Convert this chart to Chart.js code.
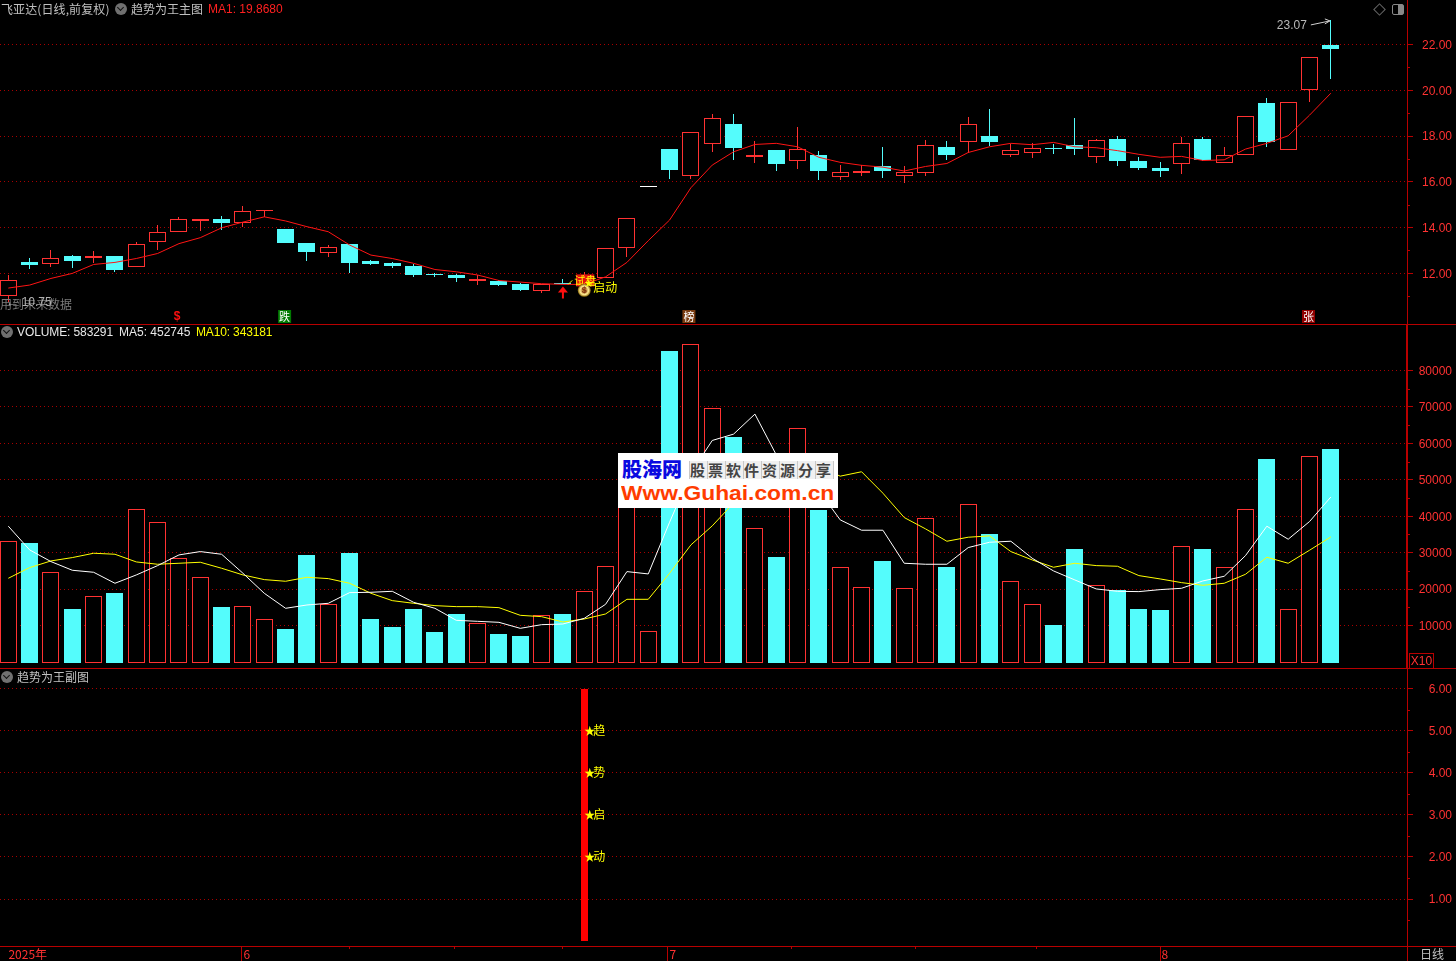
<!DOCTYPE html>
<html>
<head>
<meta charset="utf-8">
<title>飞亚达 日线</title>
<script src="https://cdn.jsdelivr.net/npm/chart.js@4"></script>
<style>
html, body { margin:0; padding:0; background:#000; overflow:hidden; }
#page { position:relative; width:1456px; height:961px; background:#000; }
canvas { position:absolute; left:0; }
.txt { position:absolute; white-space:nowrap; font:12px/14px "Liberation Sans", "Noto Sans CJK SC", sans-serif; color:#c0c0c0; }
.cn { font-family:"Noto Sans CJK SC", sans-serif; }
.rule { position:absolute; background:#b80000; }
.dot { position:absolute; width:12px; height:12px; border-radius:6px; background:#707070; }
.dot::after { content:""; position:absolute; left:3px; top:2px; width:4px; height:4px; border-right:1px solid #111; border-bottom:1px solid #111; transform:rotate(45deg); }
#logo { position:absolute; left:618px; top:453px; width:220px; height:55px; background:#fff; overflow:hidden; }
#logo div { position:absolute; white-space:nowrap; }
</style>
</head>
<body>
<div id="page">
  <canvas id="priceChart" width="1456" height="324" style="top:0"></canvas>
  <canvas id="volumeChart" width="1456" height="343" style="top:325px"></canvas>
  <canvas id="signalChart" width="1456" height="293" style="top:668px"></canvas>

  <div class="rule" style="left:0;top:324px;width:1456px;height:1px"></div>
  <div class="rule" style="left:0;top:668px;width:1456px;height:1px"></div>
  <div class="rule" style="left:0;top:946px;width:1456px;height:1px"></div>
  <div class="rule" style="left:1407px;top:946px;width:1px;height:15px"></div>

  <div class="txt cn" style="left:1px;top:2px;letter-spacing:.1px">飞亚达(日线,前复权)</div>
  <div class="dot" style="left:115px;top:3px"></div>
  <div class="txt cn" style="left:131px;top:2px">趋势为王主图</div>
  <div class="txt" style="left:208px;top:2px;color:#ff2020">MA1: 19.8680</div>
  <div style="position:absolute;left:1375px;top:5px;width:7px;height:7px;border:1px solid #666;transform:rotate(45deg)"></div>
  <div style="position:absolute;left:1392px;top:4px;width:10px;height:9px;border:1px solid #888;border-radius:2px;background:linear-gradient(90deg,#000 50%,#888 50%)"></div>

  <div class="dot" style="left:1px;top:326px"></div>
  <div class="txt" style="left:17px;top:325px;color:#e8e8e8;letter-spacing:-.1px">VOLUME: 583291</div>
  <div class="txt" style="left:119px;top:325px;color:#e8e8e8">MA5: 452745</div>
  <div class="txt" style="left:196px;top:325px;color:#ffff00;letter-spacing:-.15px">MA10: 343181</div>
  <div class="txt" style="left:1409px;top:653px;width:23px;height:14px;border:1px solid #b80000;border-bottom:0;color:#ff3232;text-align:center">X10</div>

  <div class="dot" style="left:1px;top:671px"></div>
  <div class="txt cn" style="left:17px;top:670px">趋势为王副图</div>
  <div class="txt cn" style="left:1420px;top:947px">日线</div>

  <div id="logo">
    <div class="cn" style="left:4px;top:2px;font-size:20px;line-height:28px;font-weight:900;color:#0a0ae0">股海网</div>
    <div class="cn" style="left:71px;top:8px;width:144px;padding-left:1px;font-size:15px;line-height:18px;font-weight:700;color:#444;letter-spacing:3px;background:repeating-linear-gradient(90deg,#c8c8c8 0,#c8c8c8 1px,#f0f0f0 1px,#f0f0f0 18px)">股票软件资源分享</div>
    <div style="left:3px;top:29px;font:bold 20px/22px 'Liberation Sans';color:#ff3c00;transform:scaleX(1.14);transform-origin:0 0">Www.Guhai.com.cn</div>
  </div>
</div>

<script>
// candles
const opens = [11.02,12.49,12.42,12.76,12.66,12.76,12.29,13.35,13.79,14.31,14.37,14.18,14.71,13.94,13.32,12.90,13.28,12.54,12.45,12.32,11.99,11.93,11.66,11.67,11.53,11.24,11.58,11.50,11.81,13.09,15.80,17.42,16.26,17.66,18.52,17.08,17.39,16.92,17.17,16.22,16.40,16.69,16.26,16.40,17.52,17.72,18.00,17.18,17.27,17.47,17.59,17.09,17.85,16.89,16.59,16.76,17.85,16.80,17.15,19.42,17.37,19.99,21.97];
const closes = [11.69,12.36,12.66,12.55,12.74,12.16,13.27,13.79,14.36,14.39,14.21,14.71,14.79,13.34,12.93,13.14,12.47,12.42,12.33,11.94,11.94,11.80,11.75,11.49,11.27,11.52,11.52,11.87,13.09,14.40,15.80,16.53,18.16,18.77,17.47,17.15,16.77,17.42,16.47,16.45,16.47,16.47,16.41,17.59,17.17,18.51,17.75,17.37,17.46,17.44,17.44,17.84,16.92,16.61,16.48,17.68,16.95,17.15,18.86,17.75,19.47,21.43,21.81];
const highs = [11.93,12.67,13.02,12.80,12.98,12.76,13.37,14.11,14.46,14.39,14.50,14.94,14.79,13.94,13.32,13.24,13.28,12.58,12.51,12.41,12.03,11.97,11.93,11.70,11.59,11.52,11.74,12.06,13.09,14.40,15.80,17.42,18.16,18.96,18.96,17.78,17.39,18.39,17.34,16.73,16.72,17.52,16.70,17.82,17.78,18.83,19.18,17.66,17.68,17.65,18.78,17.88,18.00,17.07,16.86,17.95,17.94,17.52,18.86,19.66,19.47,21.43,23.07];
const lows = [10.75,12.20,12.29,12.23,12.44,12.07,12.29,13.02,13.79,13.86,13.89,14.04,14.45,13.34,12.55,12.71,12.01,12.38,12.23,11.84,11.84,11.62,11.49,11.45,11.23,11.14,11.52,11.40,11.81,12.73,15.80,16.13,16.13,17.31,16.95,16.82,16.47,16.56,16.08,16.08,16.25,16.16,15.96,16.25,16.95,17.24,17.57,17.08,17.05,17.23,17.17,16.83,16.70,16.51,16.22,16.35,16.89,16.80,17.15,17.53,17.37,19.50,20.50];
const ma1 = [11.36,11.49,11.78,12.00,12.39,12.48,12.65,12.87,13.30,13.56,13.99,14.24,14.47,14.29,14.04,13.82,13.24,12.80,12.65,12.44,12.17,12.07,11.93,11.69,11.62,11.55,11.52,11.52,11.85,12.48,13.43,14.33,15.74,16.73,17.31,17.63,17.68,17.53,17.07,16.85,16.72,16.64,16.47,16.67,16.80,17.28,17.53,17.68,17.62,17.72,17.53,17.49,17.36,17.20,17.07,17.11,16.93,16.96,17.43,17.68,18.01,18.91,19.87];

// volume panel
const volumes = [33315,32674,24613,14537,18018,18934,41925,38536,28460,23422,15087,15270,11697,9041,29376,16003,29926,11789,9591,14537,8217,13163,10781,7667,7117,12797,13163,19392,26262,52000,8400,85435,87267,69680,61803,36704,28827,64093,41742,25987,20491,27727,20216,39452,26079,43299,35147,22140,15819,10140,31025,21040,19758,14537,14262,31758,31025,25987,41925,55757,14445,56490,58329];
const ma5 = [37254,30750,27544,25163,24613,21590,23880,26445,29376,30292,29559,24338,18842,14720,15636,16094,19025,19117,19392,16369,14720,11423,11148,10873,9224,10232,10415,11972,15819,24796,24155,38353,51873,60795,62535,68031,56856,52221,47055,38994,36155,36155,27086,26811,26811,31391,32857,33132,28460,24979,22506,20033,19392,19300,19850,20216,22231,23514,29193,37254,33681,38536,45274];
const ma10 = [22964,25895,27727,28643,29834,29559,27453,26811,27086,27361,25712,23880,22598,22140,23239,22873,21590,18842,16827,16094,15453,15178,15178,14903,12797,12430,10965,11789,13163,17193,17193,24338,32124,37345,43620,46010,47577,52247,53595,50994,52203,46322,39635,36521,33132,34231,34597,30292,28002,25987,27086,26445,26262,23697,22781,21773,21040,21590,24063,28735,27086,30658,34318];

// signal panel
const signalIndex = [27];
const signalValues = [6];
const signalStarValues = [5,4,3,2];
const signalWords = ['趋','势','启','动'];

// axis ticks
const priceTicks = [22,20,18,16,14,12];
const priceMinorTicks = [21,19,17,15,13,11];
const volumeTicks = [80000,70000,60000,50000,40000,30000,20000,10000];
const volumeMinorTicks = [75000,65000,55000,45000,35000,25000,15000];
const signalTicks = [6,5,4,3,2,1];
const signalMinorTicks = [5.5,4.5,3.5,2.5,1.5,0.5];
const dateTicks = [-0.09,10.93,30.9,53.97];
const dateLabels = ['2025年','6','7','8'];
const dateMinorTicks = [15.96,20.9,25.94,36.7,42.5,48.2];

const RED = '#ff3232', CYAN = '#54fcfc', AXIS = '#b80000', GRID = '#a80000';
const LATIN = '"Liberation Sans"', CJK = '"Noto Sans CJK SC"';
const isDoji = i => opens[i] === closes[i];
const isUp = i => closes[i] >= opens[i];

const indexes = opens.map((v, i) => i);
const xOptions = { type:'linear', min:-0.39, max:65.57, offset:false, display:false };

// y axis shared by the three panels
function yAxis(min, max, tickValues, digits, borderWidth){
    return {
        position:'right', min, max,
        afterBuildTicks(s){ s.ticks = tickValues.map(v => ({ value:v })); },
        afterFit(s){ s.width = 45; s.paddingTop = 0; s.paddingBottom = 0; },
        ticks:{ color:RED, crossAlign:'far', padding:0, autoSkip:false, labelOffset:1,
            font:{ family:LATIN, size:12 },
            callback:v => digits ? v.toFixed(digits) : String(v) },
        grid:{ color:GRID, tickColor:AXIS, tickLength:6, lineWidth:1 },
        border:{ color:AXIS, width:borderWidth, dash:[1,3] }
    };
}

// short ticks between the labelled ones
function minorTickPlugin(values){
    return { id:'minorTicks', afterDraw(chart){
        const s = chart.scales.y, c = chart.ctx;
        c.save();
        c.strokeStyle = AXIS;
        values.forEach(v => {
            const y = Math.round(s.getPixelForValue(v)) + 0.5;
            c.beginPath(); c.moveTo(s.left, y); c.lineTo(s.left + 3, y); c.stroke();
        });
        c.restore();
    }};
}

// keep bars on whole pixels so the 1px outlines stay sharp
const snapBars = { id:'snapBars', beforeDatasetsDraw(chart){
    chart.data.datasets.forEach((ds, d) => {
        const meta = chart.getDatasetMeta(d);
        if (meta.type !== 'bar') return;
        meta.data.forEach(el => {
            el.x = Math.round(el.x - 8.5) + 8.5;
            el.y = Math.round(el.y);
            el.base = Math.round(el.base);
        });
    });
}};

function text(c, str, x, y, color, font, align){
    c.fillStyle = color;
    c.font = font;
    c.textAlign = align || 'left';
    c.textBaseline = 'middle';
    c.fillText(str, x, y);
}

function badge(c, cx, top, bg, word){
    c.fillStyle = bg;
    c.fillRect(cx - 6.5, top, 13, 13);
    text(c, word, cx, top + 6.5, '#fff', '11px ' + CJK, 'center');
}

// marks the trading software puts on the price panel
const priceMarks = { id:'priceMarks', afterDatasetsDraw(chart){
    const c = chart.ctx, X = chart.scales.x, Y = chart.scales.y;
    c.save();

    // lowest price, near left edge
    const lowY = Y.getPixelForValue(lows[0]);
    text(c, '用到未来数据', 0, lowY + 2, '#7a7a7a', '12px ' + CJK);
    text(c, '← 10.75', X.getPixelForValue(0) - 2, lowY + 1, '#b0b0b0', '12px ' + LATIN);

    // highest price with thin arrow
    const hx = X.getPixelForValue(62), hy = Y.getPixelForValue(highs[62]);
    text(c, '23.07', hx - 54, hy + 6, '#b8b8b8', '12px ' + LATIN);
    c.strokeStyle = '#d0d0d0';
    c.lineWidth = 1;
    c.beginPath();
    c.moveTo(hx - 20, hy + 5); c.lineTo(hx - 1, hy + 1);
    c.moveTo(hx - 6, hy - 1); c.lineTo(hx - 1, hy + 1); c.lineTo(hx - 6, hy + 4);
    c.stroke();

    // red up arrow under candle 26
    const ax = X.getPixelForValue(26), ay = Y.getPixelForValue(lows[26]);
    c.fillStyle = '#ff1010';
    c.beginPath();
    c.moveTo(ax, ay + 2); c.lineTo(ax + 5, ay + 8); c.lineTo(ax + 1, ay + 8);
    c.lineTo(ax + 1, ay + 14); c.lineTo(ax - 1, ay + 14); c.lineTo(ax - 1, ay + 8);
    c.lineTo(ax - 5, ay + 8);
    c.closePath();
    c.fill();

    // 试盘 / 启动 marks by candle 27
    const sx = X.getPixelForValue(27), sy = Y.getPixelForValue(closes[27]);
    c.fillStyle = '#e81010';
    c.fillRect(sx - 8, sy - 2, 18, 12);
    text(c, '试盘', sx - 10, sy + 4, '#ffff00', '11px ' + CJK);
    c.strokeStyle = '#ffff00';
    c.beginPath(); c.moveTo(sx - 16, sy + 8); c.lineTo(sx - 12, sy + 4); c.stroke();
    const coin = c.createRadialGradient(sx, sy + 14, 1, sx, sy + 14, 6.5);
    coin.addColorStop(0, '#a86a20');
    coin.addColorStop(0.6, '#ffe890');
    coin.addColorStop(1, '#806000');
    c.fillStyle = coin;
    c.beginPath(); c.arc(sx, sy + 14, 6.5, 0, Math.PI * 2); c.fill();
    text(c, '$', sx, sy + 14, '#803010', 'bold 9px ' + LATIN, 'center');
    text(c, '★', sx, sy + 6, '#ffff00', '9px ' + CJK);
    text(c, '启动', sx + 9, sy + 11, '#ffff00', '12px ' + CJK);

    // bottom strip
    text(c, '$', X.getPixelForValue(8) - 2, 317, '#ff1010', 'bold 12px ' + LATIN, 'center');
    badge(c, X.getPixelForValue(13) - 1, 310, '#007a00', '跌');
    badge(c, X.getPixelForValue(32) - 2, 310, '#7a3c10', '榜');
    badge(c, X.getPixelForValue(61) - 1, 310, '#900000', '张');
    c.restore();
}};

const signalMarks = { id:'signalMarks', afterDatasetsDraw(chart){
    const c = chart.ctx, X = chart.scales.x, Y = chart.scales.y;
    const x = X.getPixelForValue(signalIndex[0]);
    c.save();
    signalStarValues.forEach((v, i) => {
        const y = Y.getPixelForValue(v);
        text(c, '★', x, y, '#ffff00', '11px ' + CJK);
        text(c, signalWords[i], x + 9, y, '#ffff00', '12px ' + CJK);
    });
    c.restore();
}};

const dateAxisTicks = { id:'dateAxisTicks', afterDraw(chart){
    const c = chart.ctx, X = chart.scales.x, top = X.top;
    c.save();
    c.strokeStyle = AXIS;
    dateTicks.slice(1).forEach(v => {
        const x = Math.round(X.getPixelForValue(v)) + 0.5;
        c.beginPath(); c.moveTo(x, top); c.lineTo(x, top + 15); c.stroke();
    });
    dateMinorTicks.forEach(v => {
        const x = Math.round(X.getPixelForValue(v)) + 0.5;
        c.beginPath(); c.moveTo(x, top); c.lineTo(x, top + 3); c.stroke();
    });
    c.restore();
}};

const baseOptions = {
    responsive:false, animation:false, devicePixelRatio:1, events:[],
    layout:{ padding:{ left:0, right:4, top:0, bottom:0 } },
    plugins:{ legend:{ display:false }, tooltip:{ enabled:false } }
};

function lineSet(values, color){
    return { type:'line', order:0, data:indexes.map(i => ({ x:i, y:values[i] })),
        borderColor:color, borderWidth:1, pointRadius:0, tension:0 };
}

// price panel
const bodyColor = i => isDoji(i) ? '#fff' : (isUp(i) ? RED : CYAN);
new Chart(document.getElementById('priceChart'), {
    type:'bar',
    data:{ datasets:[
        lineSet(ma1, '#ff1414'),
        { order:1, grouped:false, barThickness:17, borderSkipped:false, borderWidth:1, inflateAmount:0,
          data:indexes.map(i => ({ x:i, y:isDoji(i) ? [opens[i] - 0.02, opens[i] + 0.02] : [opens[i], closes[i]] })),
          backgroundColor:indexes.map(i => isDoji(i) ? '#fff' : (isUp(i) ? '#000' : CYAN)),
          borderColor:indexes.map(bodyColor) },
        { order:2, grouped:false, barThickness:1, borderWidth:0, inflateAmount:0,
          data:indexes.map(i => ({ x:i, y:[lows[i], highs[i]] })),
          backgroundColor:indexes.map(bodyColor) }
    ]},
    options:{ ...baseOptions,
        scales:{ x:xOptions, y:yAxis(9.79, 23.94, priceTicks, 2, 1) } },
    plugins:[snapBars, minorTickPlugin(priceMinorTicks), priceMarks]
});

// volume panel
new Chart(document.getElementById('volumeChart'), {
    type:'bar',
    data:{ datasets:[
        lineSet(ma5, '#ffffff'),
        lineSet(ma10, '#ffff00'),
        { order:1, grouped:false, barThickness:17, borderSkipped:false, borderWidth:1, base:-250, inflateAmount:0,
          data:indexes.map(i => ({ x:i, y:volumes[i] })),
          backgroundColor:indexes.map(i => isUp(i) ? '#000' : CYAN),
          borderColor:indexes.map(i => isUp(i) ? RED : CYAN) }
    ]},
    options:{ ...baseOptions,
        scales:{ x:xOptions, y:yAxis(-1666, 92490, volumeTicks, 0, 2) } },
    plugins:[snapBars, minorTickPlugin(volumeMinorTicks)]
});

// signal panel, carries the date axis
new Chart(document.getElementById('signalChart'), {
    type:'bar',
    data:{ datasets:[
        { barThickness:7, borderWidth:0, inflateAmount:0, backgroundColor:'#ff0000',
          data:signalIndex.map((x, i) => ({ x, y:signalValues[i] })) }
    ]},
    options:{ ...baseOptions,
        scales:{
            x:{ type:'linear', min:-0.39, max:65.57, offset:false, position:'bottom',
                afterBuildTicks(s){ s.ticks = dateTicks.map(v => ({ value:v })); },
                afterFit(s){ s.height = 15; s.paddingLeft = 0; s.paddingRight = 0; },
                ticks:{ color:RED, align:'start', autoSkip:false, maxRotation:0, padding:1, labelOffset:2,
                    font:{ family:CJK, size:12 },
                    callback:(v, i) => dateLabels[i] },
                grid:{ display:false, drawTicks:false, offset:false },
                border:{ display:false } },
            y:yAxis(-0.116, 6.487, signalTicks, 2, 1)
        } },
    plugins:[snapBars, minorTickPlugin(signalMinorTicks), signalMarks, dateAxisTicks]
});
</script>
</body>
</html>
